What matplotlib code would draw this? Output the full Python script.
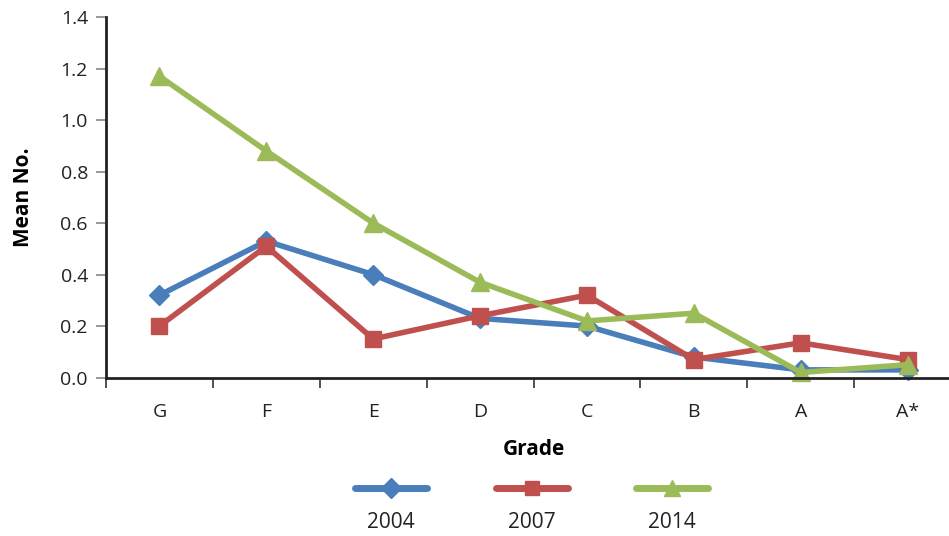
import matplotlib
matplotlib.use("Agg")
import matplotlib.pyplot as plt
from matplotlib.lines import Line2D

grades = ["G", "F", "E", "D", "C", "B", "A", "A*"]
s2004 = [0.32, 0.53, 0.40, 0.23, 0.20, 0.08, 0.03, 0.03]
s2007 = [0.20, 0.51, 0.15, 0.24, 0.32, 0.07, 0.135, 0.07]
s2014 = [1.17, 0.88, 0.60, 0.37, 0.22, 0.25, 0.02, 0.05]
years = ["2004", "2007", "2014"]
yticks = [0.0, 0.2, 0.4, 0.6, 0.8, 1.0, 1.2, 1.4]

plt.rcParams['font.family'] = ['Open Sans', 'DejaVu Sans']

W, H = 949, 536
fig = plt.figure(figsize=(W / 100, H / 100), dpi=100)
ax = fig.add_axes([106 / W, 1 - 377.6 / H, (961 - 106) / W, (377.6 - 17) / H])

colors = ["#4A7EBB", "#C0504D", "#9BBB59"]
markers = ["D", "s", "^"]
msizes = [10, 11, 13]
x = list(range(len(grades)))
handles = []
for vals, c, m, ms in zip([s2004, s2007, s2014], colors, markers, msizes):
    ln, = ax.plot(x, vals, color=c, marker=m, markersize=ms, linewidth=4,
                  markeredgecolor=c, solid_joinstyle='round', clip_on=False)
    handles.append(ln)

ax.set_xlim(-0.5, 7.5)
ax.set_ylim(0, 1.4)
ax.set_yticks(yticks)
ax.set_yticklabels([f"{v:.1f}" for v in yticks])
ax.set_xticks([i + 0.5 for i in range(-1, 8)], minor=False)
ax.set_xticklabels([])
ax.set_xticks(x, minor=True)
ax.set_xticklabels(grades, minor=True)
ax.tick_params(axis='x', which='minor', length=0, pad=18, labelsize=14, colors='#222222')
ax.tick_params(axis='x', which='major', direction='out', length=7, width=1.2, color='#333333')
ax.tick_params(axis='y', direction='out', length=7, width=1.2, color='#888888', labelsize=14,
               labelcolor='#222222', pad=6)
for side in ['top', 'right']:
    ax.spines[side].set_visible(False)
for side in ['left', 'bottom']:
    ax.spines[side].set_linewidth(2)
    ax.spines[side].set_color('#222222')

ax.set_ylabel("Mean No.", fontsize=15, fontweight='bold', labelpad=19)
ax.set_xlabel("Grade", fontsize=15, fontweight='bold', labelpad=13)

centers = [391, 532, 672]
for h, lab, cx, c, m in zip(handles, years, centers, colors, markers):
    proxy = Line2D([], [], color=c, marker=m, markersize=10 if m != '^' else 11,
                   linewidth=5, solid_capstyle='round')
    leg = fig.legend([proxy], [""], loc='center', bbox_to_anchor=(cx / W, 1 - 489 / H),
                     frameon=False, handlelength=4.0, handletextpad=0, borderpad=0,
                     borderaxespad=0, fontsize=13)
    fig.text(cx / W, 1 - 522 / H, lab, ha='center', va='center', fontsize=15, color='#222222')

fig.savefig("out.png", dpi=100)
